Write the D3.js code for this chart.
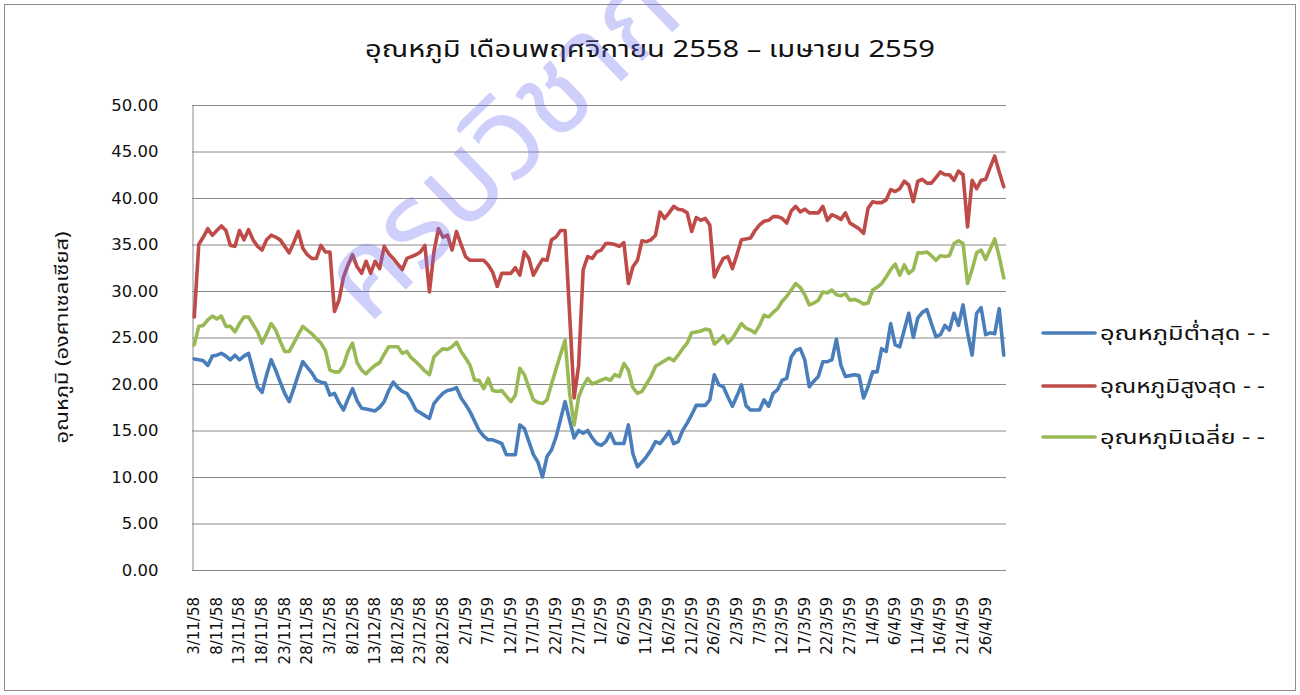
<!DOCTYPE html>
<html>
<head>
<meta charset="utf-8">
<script src="https://cdn.jsdelivr.net/npm/d3@7"></script>
<style>
  body { margin: 0; background: #fff; }
  svg { display: block; }
</style>
</head>
<body>
<div id="chart"></div>
<script>
// Daily temperature, 3 Nov 2558 - 30 Apr 2559 (180 days)
const startDay = new Date(2015, 10, 3);
const dayCount = 180;

const seriesNames = ["อุณหภูมิต่ำสุด - -", "อุณหภูมิสูงสุด - -", "อุณหภูมิเฉลี่ย - -"];
const seriesColors = ["#4a7ebb", "#be4b48", "#98b954"];

const tempMin = [
  22.7, 22.6, 22.5, 22.0, 23.0, 23.1, 23.3, 23.0, 22.6, 23.1,
  22.6, 23.0, 23.3, 21.5, 19.7, 19.1, 21.0, 22.6, 21.5, 20.2,
  19.0, 18.1, 19.5, 21.0, 22.4, 21.8, 21.2, 20.4, 20.2, 20.1,
  18.8, 19.0, 18.0, 17.2, 18.4, 19.5, 18.2, 17.4, 17.3, 17.2,
  17.1, 17.5, 18.1, 19.3, 20.2, 19.6, 19.2, 19.0, 18.2, 17.2,
  16.9, 16.6, 16.3, 17.9, 18.5, 19.0, 19.3, 19.4, 19.6, 18.5,
  17.8, 17.0, 16.0, 15.0, 14.4, 14.0, 14.0, 13.8, 13.6, 12.4,
  12.4, 12.4, 15.6, 15.2, 13.8, 12.4, 11.6, 10.0, 12.2, 12.9,
  14.3, 16.2, 18.1, 16.1, 14.2, 15.0, 14.7, 15.0, 14.2, 13.6,
  13.4, 13.8, 14.7, 13.6, 13.6, 13.6, 15.6, 12.5, 11.1, 11.6,
  12.2, 12.9, 13.8, 13.6, 14.2, 14.9, 13.6, 13.8, 15.0, 15.8,
  16.7, 17.7, 17.7, 17.7, 18.3, 21.0, 19.9, 19.7, 18.6, 17.6,
  18.7, 19.9, 17.7, 17.2, 17.2, 17.2, 18.3, 17.6, 19.0, 19.4,
  20.4, 20.6, 22.9, 23.6, 23.8, 22.6, 19.7, 20.3, 20.8, 22.4,
  22.4, 22.6, 24.8, 22.0, 20.8, 20.9, 21.0, 20.9, 18.5, 19.7,
  21.3, 21.3, 23.8, 23.5, 26.5, 24.2, 24.0, 25.8, 27.6, 25.0,
  27.1, 27.7, 28.0, 26.5, 25.1, 25.3, 26.3, 25.8, 27.6, 26.3,
  28.5, 25.5, 23.1, 27.6, 28.2, 25.3, 25.5, 25.4, 28.1, 23.1
];

const tempMax = [
  27.2, 35.0, 35.8, 36.7, 36.0, 36.5, 37.0, 36.5, 34.9, 34.8,
  36.5, 35.5, 36.6, 35.5, 34.8, 34.4, 35.5, 36.0, 35.8, 35.5,
  34.8, 34.1, 35.2, 36.4, 34.6, 33.9, 33.5, 33.5, 34.9, 34.2,
  34.2, 27.8, 29.0, 31.5, 32.8, 33.9, 32.6, 31.9, 33.2, 31.9,
  33.2, 32.4, 34.8, 34.0, 33.5, 32.9, 32.3, 33.5, 33.7, 33.9,
  34.2, 34.9, 29.9, 34.2, 36.7, 35.8, 36.0, 34.4, 36.4, 35.0,
  33.7, 33.3, 33.3, 33.3, 33.3, 32.8, 32.0, 30.5, 31.9, 31.9,
  31.9, 32.5, 31.7, 34.2, 33.5, 31.7, 32.6, 33.4, 33.3, 35.5,
  35.8, 36.5, 36.5, 27.5, 18.5, 22.0, 32.3, 33.7, 33.5, 34.2,
  34.4, 35.1, 35.1, 35.0, 34.8, 35.2, 30.8, 32.6, 33.3, 35.4,
  35.3, 35.5, 36.0, 38.5, 37.8, 38.4, 39.1, 38.8, 38.7, 38.4,
  36.4, 37.9, 37.6, 37.8, 37.1, 31.5, 32.6, 33.5, 33.7, 32.4,
  33.9, 35.5, 35.6, 35.7, 36.5, 37.1, 37.5, 37.6, 38.0, 38.0,
  37.8, 37.3, 38.6, 39.1, 38.5, 38.8, 38.4, 38.4, 38.4, 39.1,
  37.6, 38.2, 38.0, 37.7, 38.4, 37.3, 37.0, 36.7, 36.2, 38.9,
  39.6, 39.5, 39.5, 39.8, 40.9, 40.7, 41.0, 41.8, 41.4, 39.6,
  41.8, 42.0, 41.6, 41.6, 42.2, 42.8, 42.5, 42.5, 41.9, 42.9,
  42.5, 36.9, 41.9, 41.0, 41.9, 42.0, 43.3, 44.5, 42.8, 41.2
];

const tempAvg = [
  24.2, 26.2, 26.3, 26.9, 27.3, 27.0, 27.3, 26.2, 26.2, 25.6,
  26.5, 27.2, 27.2, 26.4, 25.6, 24.4, 25.4, 26.5, 25.8, 24.6,
  23.5, 23.5, 24.4, 25.3, 26.2, 25.8, 25.4, 24.9, 24.4, 23.6,
  21.5, 21.3, 21.3, 22.0, 23.5, 24.4, 22.3, 21.5, 21.1, 21.6,
  22.0, 22.3, 23.2, 24.0, 24.0, 24.0, 23.3, 23.5, 22.8, 22.4,
  21.9, 21.4, 21.0, 22.9, 23.4, 23.8, 23.7, 24.0, 24.5, 23.5,
  22.8, 22.0, 20.4, 20.4, 19.5, 20.6, 19.3, 19.2, 19.3, 18.7,
  18.1, 18.8, 21.7, 21.0, 19.6, 18.3, 18.0, 17.9, 18.3, 20.0,
  21.6, 23.2, 24.7, 19.0, 15.6, 18.6, 19.8, 20.6, 20.0, 20.2,
  20.4, 20.6, 20.4, 21.0, 20.8, 22.2, 21.5, 19.6, 19.0, 19.2,
  20.0, 20.8, 21.9, 22.2, 22.5, 22.8, 22.5, 23.1, 23.8, 24.4,
  25.5, 25.6, 25.7, 25.9, 25.8, 24.3, 24.7, 25.2, 24.4, 24.9,
  25.7, 26.5, 26.0, 25.8, 25.5, 26.3, 27.4, 27.2, 27.7, 28.1,
  28.9, 29.4, 30.1, 30.8, 30.4, 29.6, 28.5, 28.7, 29.0, 29.9,
  29.8, 30.1, 29.6, 29.5, 29.7, 29.0, 29.1, 28.9, 28.6, 28.7,
  30.1, 30.4, 30.8, 31.5, 32.3, 32.9, 31.7, 32.8, 31.9, 32.3,
  34.1, 34.1, 34.2, 33.8, 33.3, 33.8, 33.7, 33.8, 35.1, 35.4,
  35.1, 30.8, 32.3, 34.1, 34.4, 33.4, 34.5, 35.6, 33.7, 31.4
];

const yTicks = [0, 5, 10, 15, 20, 25, 30, 35, 40, 45, 50];
const labelEvery = 5;

const chartTitle = "อุณหภูมิ เดือนพฤศจิกายน 2558 – เมษายน 2559";
const yTitle = "อุณหภูมิ (องศาเซลเซียส)";
const watermark = "ครบวิชาก";

// category labels d/m/yy in Thai Buddhist era
const days = d3.range(dayCount).map(i => {
  const d = d3.timeDay.offset(startDay, i);
  return d.getDate() + "/" + (d.getMonth() + 1) + "/" + String(d.getFullYear() + 543).slice(2);
});

const width = 1300, height = 695;
const plot = { left: 192, right: 1006, top: 105, bottom: 570 };
const thaiFont = "Tahoma, 'Noto Sans Thai', 'DejaVu Sans', sans-serif";
const numFont = "'DejaVu Sans', Verdana, sans-serif";

const svg = d3.select("#chart").append("svg")
  .attr("width", width)
  .attr("height", height);

svg.append("rect")
  .attr("x", 4.5).attr("y", 4.5)
  .attr("width", width - 9).attr("height", height - 9)
  .attr("fill", "#fff")
  .attr("stroke", "#8c8c8c");

const x = d3.scalePoint()
  .domain(d3.range(dayCount))
  .range([plot.left, plot.right])
  .padding(0.5);

const y = d3.scaleLinear()
  .domain([0, 50])
  .range([plot.bottom, plot.top]);

// gridlines
svg.append("g")
  .selectAll("line")
  .data(yTicks)
  .enter().append("line")
  .attr("x1", plot.left).attr("x2", plot.right)
  .attr("y1", d => y(d) + 0.5).attr("y2", d => y(d) + 0.5)
  .style("stroke", "#8a8a8a")
  .style("stroke-width", 1);

// y axis
const yAxis = svg.append("g")
  .attr("transform", `translate(${plot.left + 0.5},0)`)
  .call(d3.axisLeft(y).tickValues(yTicks).tickFormat(d3.format(".2f")).tickSize(0).tickPadding(34));
yAxis.select(".domain").style("stroke", "#8a8a8a");
yAxis.selectAll("text")
  .style("font-family", numFont)
  .style("font-size", "16.5px")
  .style("fill", "#111");

// x axis baseline
svg.append("line")
  .attr("x1", plot.left).attr("x2", plot.right)
  .attr("y1", plot.bottom + 0.5).attr("y2", plot.bottom + 0.5)
  .style("stroke", "#8a8a8a");

// x labels (every 5th day, rotated)
svg.append("g")
  .selectAll("text")
  .data(d3.range(0, dayCount, labelEvery))
  .enter().append("text")
  .attr("transform", i => `translate(${x(i) + 5},597) rotate(-90)`)
  .attr("text-anchor", "end")
  .style("font-family", numFont)
  .style("font-size", "15px")
  .style("fill", "#111")
  .text(i => days[i]);

// series lines
const series = [tempMin, tempMax, tempAvg];
const line = d3.line()
  .x((d, i) => x(i))
  .y(d => y(d));

svg.append("g")
  .selectAll("path")
  .data(series)
  .enter().append("path")
  .attr("d", line)
  .attr("fill", "none")
  .attr("stroke", (d, i) => seriesColors[i])
  .attr("stroke-width", 3.6)
  .attr("stroke-linejoin", "round")
  .attr("stroke-linecap", "round");

// title
svg.append("text")
  .attr("x", 650).attr("y", 57)
  .attr("text-anchor", "middle")
  .attr("textLength", 570)
  .attr("lengthAdjust", "spacingAndGlyphs")
  .style("font-family", thaiFont)
  .style("font-size", "23px")
  .style("fill", "#111")
  .text(chartTitle);

// y title
svg.append("text")
  .attr("transform", `translate(68,${(plot.top + plot.bottom) / 2}) rotate(-90)`)
  .attr("text-anchor", "middle")
  .attr("textLength", 212)
  .attr("lengthAdjust", "spacingAndGlyphs")
  .style("font-family", thaiFont)
  .style("font-size", "18px")
  .style("fill", "#111")
  .text(yTitle);

// legend
const legendY = [333, 386, 437];
const legend = svg.append("g")
  .selectAll("g")
  .data(seriesNames)
  .enter().append("g")
  .attr("transform", (d, i) => `translate(1043,${legendY[i]})`);
legend.append("line")
  .attr("x1", 0).attr("x2", 52)
  .attr("stroke", (d, i) => seriesColors[i])
  .attr("stroke-width", 3.6)
  .attr("stroke-linecap", "round");
legend.append("text")
  .attr("x", 57).attr("y", 7)
  .attr("textLength", (d, i) => [170, 165, 165][i])
  .attr("lengthAdjust", "spacingAndGlyphs")
  .style("font-family", thaiFont)
  .style("font-size", "20px")
  .style("fill", "#111")
  .text(d => d);

// watermark
svg.append("text")
  .attr("transform", "translate(368,326) rotate(-44)")
  .style("font-family", thaiFont)
  .style("font-size", "118px")
  .style("fill", "rgba(110,110,245,0.33)")
  .text(watermark);
</script>
</body>
</html>
